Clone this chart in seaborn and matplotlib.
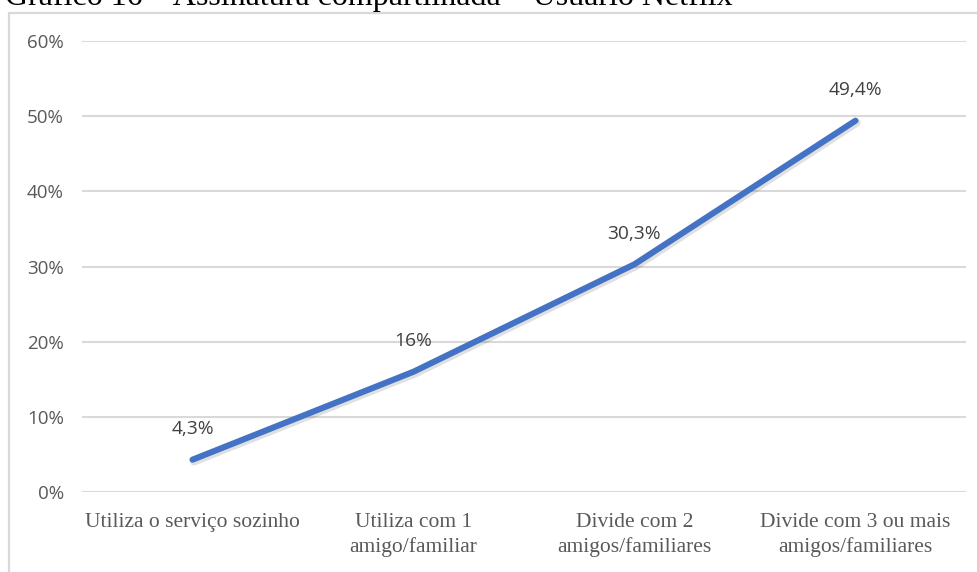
import matplotlib
matplotlib.use("Agg")
import matplotlib.pyplot as plt
import matplotlib.patheffects as pe
from matplotlib.patches import Rectangle
from matplotlib.ticker import FuncFormatter
import pandas as pd
import seaborn as sns

# Shared-subscription survey results (Netflix users)
categories = [
    "Utiliza o serviço sozinho",
    "Utiliza com 1\namigo/familiar",
    "Divide com 2\namigos/familiares",
    "Divide com 3 ou mais\namigos/familiares",
]
values = [4.3, 16.0, 30.3, 49.4]
value_labels = ["4,3%", "16%", "30,3%", "49,4%"]
y_ticks = [0, 10, 20, 30, 40, 50, 60]
title = "Gráfico 16 – Assinatura compartilhada – Usuário Netflix"

df = pd.DataFrame({"pos": range(len(categories)), "valor": values})

sns.set_theme(style="white")
plt.rcParams["font.family"] = ["Open Sans", "DejaVu Sans"]

W, H = 978, 572
fig = plt.figure(figsize=(W / 100, H / 100), dpi=100)
fig.patch.set_facecolor("white")

# outer chart frame
fig.patches.append(Rectangle((9 / W, -0.05), 1.2, 1 - 12.5 / H + 0.05,
                             transform=fig.transFigure, fill=False,
                             edgecolor="#d9d9d9", linewidth=1.6, zorder=0))

# caption, mostly above the top edge
fig.text(5 / W, 1 - 4.5 / H, title, family="Liberation Serif", fontsize=23,
         color="black", ha="left", va="baseline")

ax = fig.add_axes([82 / W, 1 - 492 / H, (966 - 82) / W, (492 - 41) / H])
ax.set_facecolor("none")

sns.lineplot(data=df, x="pos", y="valor", ax=ax, color="#4472C4",
             linewidth=4.4, solid_capstyle="round", solid_joinstyle="round",
             zorder=3)
for line in ax.get_lines():
    line.set_path_effects([
        pe.SimpleLineShadow(offset=(1.0, -1.5), shadow_color="#000000",
                            alpha=0.12, linewidth=5.5),
        pe.Normal(),
    ])

ax.set_xlim(-0.5, len(categories) - 0.5)
ax.set_ylim(0, 60)
ax.set_yticks(y_ticks)
ax.yaxis.set_major_formatter(FuncFormatter(lambda v, _: f"{v:.0f}%"))
ax.set_xticks(range(len(categories)))
ax.set_xticklabels(categories, family="Liberation Serif", fontsize=15.5,
                   color="#595959", linespacing=1.35)
ax.tick_params(axis="y", labelsize=13.5, labelcolor="#595959", length=0, pad=13)
ax.tick_params(axis="x", length=0, pad=15)
ax.set_xlabel("")
ax.set_ylabel("")

ax.grid(axis="y", color="#d9d9d9", linewidth=1.5)
ax.grid(axis="x", visible=False)
ax.set_axisbelow(True)
for s in ax.spines.values():
    s.set_visible(False)

for x, v, lab in zip(df["pos"], df["valor"], value_labels):
    ax.annotate(lab, (x, v), xytext=(0, 22), textcoords="offset points",
                ha="center", va="center", fontsize=13.8, color="#404040")

fig.savefig("out.png", dpi=100, facecolor="white")
